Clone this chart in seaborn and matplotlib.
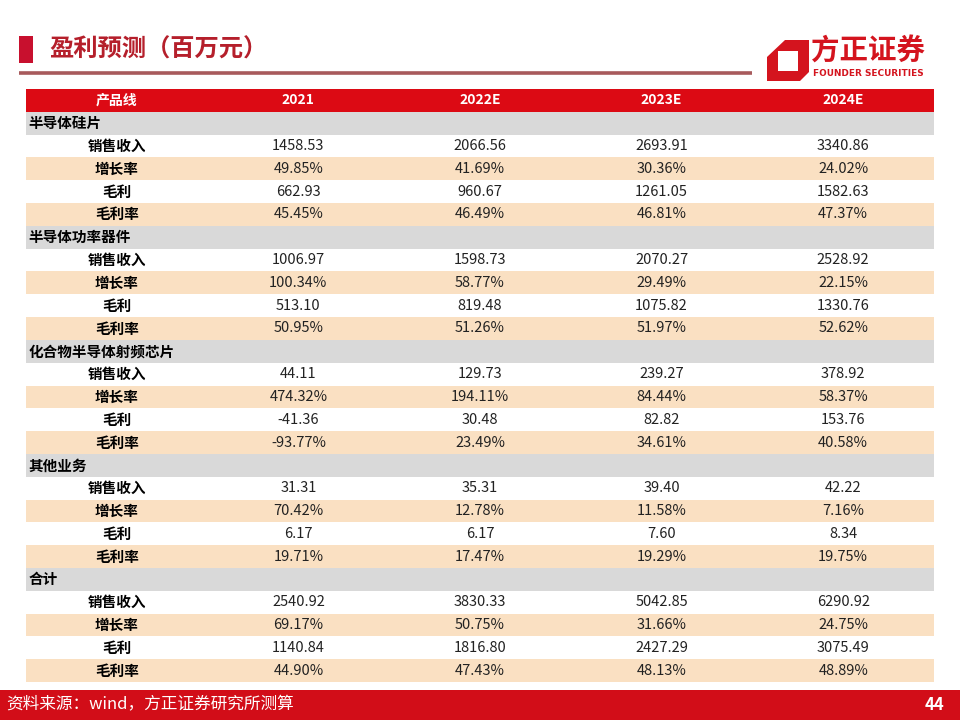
import matplotlib
matplotlib.use('Agg')
import matplotlib.pyplot as plt
import matplotlib.patches as mpatches
from matplotlib.colors import ListedColormap
import seaborn as sns
import numpy as np
import pandas as pd

# ---------------- data ----------------
years = ['2021', '2022E', '2023E', '2024E']
segments = ['半导体硅片', '半导体功率器件', '化合物半导体射频芯片', '其他业务', '合计']
metrics = ['销售收入', '增长率', '毛利', '毛利率']

silicon_revenue = [1458.53, 2066.56, 2693.91, 3340.86]
silicon_growth = [49.85, 41.69, 30.36, 24.02]
silicon_gross = [662.93, 960.67, 1261.05, 1582.63]
silicon_margin = [45.45, 46.49, 46.81, 47.37]

power_revenue = [1006.97, 1598.73, 2070.27, 2528.92]
power_growth = [100.34, 58.77, 29.49, 22.15]
power_gross = [513.10, 819.48, 1075.82, 1330.76]
power_margin = [50.95, 51.26, 51.97, 52.62]

rf_revenue = [44.11, 129.73, 239.27, 378.92]
rf_growth = [474.32, 194.11, 84.44, 58.37]
rf_gross = [-41.36, 30.48, 82.82, 153.76]
rf_margin = [-93.77, 23.49, 34.61, 40.58]

other_revenue = [31.31, 35.31, 39.40, 42.22]
other_growth = [70.42, 12.78, 11.58, 7.16]
other_gross = [6.17, 6.17, 7.60, 8.34]
other_margin = [19.71, 17.47, 19.29, 19.75]

total_revenue = [2540.92, 3830.33, 5042.85, 6290.92]
total_growth = [69.17, 50.75, 31.66, 24.75]
total_gross = [1140.84, 1816.80, 2427.29, 3075.49]
total_margin = [44.90, 47.43, 48.13, 48.89]

segment_data = [
    [silicon_revenue, silicon_growth, silicon_gross, silicon_margin],
    [power_revenue, power_growth, power_gross, power_margin],
    [rf_revenue, rf_growth, rf_gross, rf_margin],
    [other_revenue, other_growth, other_gross, other_margin],
    [total_revenue, total_growth, total_gross, total_margin],
]

# ---------------- style ----------------
sns.set_theme(style='white')
plt.rcParams['font.family'] = ['Noto Sans CJK SC', 'DejaVu Sans']

RED = '#dc0a14'
TITLE_RED = '#b51f2b'
GRAY = '#d9d9d9'
BEIGE = '#fae0c2'
WHITE = '#ffffff'
LOGO_RED = '#d4141e'

# build table rows: code 0 header, 1 group, 2 white, 3 beige
codes, rows = [0], [('header', None, None)]
for seg, data in zip(segments, segment_data):
    codes.append(1)
    rows.append(('group', seg, None))
    for k, (m, vals) in enumerate(zip(metrics, data)):
        codes.append(2 if k % 2 == 0 else 3)
        pct = m in ('增长率', '毛利率')
        txt = [f'{v:.2f}%' if pct else f'{v:.2f}' for v in vals]
        rows.append(('metric', m, txt))

grid = pd.DataFrame(np.repeat(np.array(codes)[:, None], 5, axis=1))
cmap = ListedColormap([RED, GRAY, WHITE, BEIGE])

W, H = 960, 720
fig = plt.figure(figsize=(9.6, 7.2), dpi=100)

# background axes in pixel coordinates
bg = fig.add_axes([0, 0, 1, 1])
bg.set_xlim(0, W)
bg.set_ylim(H, 0)
bg.axis('off')

# title block
bg.add_patch(mpatches.Rectangle((19, 36), 14, 27, color='#c8102e', lw=0))
bg.text(49, 50, '盈利预测（百万元）', fontsize=17.5, fontweight='bold',
        color=TITLE_RED, va='center', ha='left')
bg.plot([19, 752], [73, 73], color='#a85a5c', lw=2.6, solid_capstyle='butt')

# logo
outer = mpatches.Polygon([(785, 40), (809, 40), (809, 72), (800, 81),
                          (767, 81), (767, 57)], closed=True, color=LOGO_RED, lw=0)
inner = mpatches.Rectangle((778, 51), 20, 20, color='white', lw=0)
bg.add_patch(outer)
bg.add_patch(inner)
bg.text(811, 52, '方正证券', fontsize=20.5, fontweight='bold', color=LOGO_RED,
        va='center', ha='left')
bg.text(813, 73, 'FOUNDER SECURITIES', fontsize=6.4, fontweight='bold',
        color=LOGO_RED, va='center', ha='left', family='DejaVu Sans')

# footer
bg.add_patch(mpatches.Rectangle((0, 690), W, 30, color='#d20d18', lw=0))
bg.text(6, 705, '资料来源：wind，方正证券研究所测算', fontsize=12, color='white',
        va='center', ha='left')
bg.text(944, 705, '44', fontsize=12, fontweight='bold', color='white',
        va='center', ha='right')

# table as heatmap
top, bottom, left, right = 89, 682, 26, 934
tab = fig.add_axes([left / W, 1 - bottom / H, (right - left) / W, (bottom - top) / H])
sns.heatmap(grid, cmap=cmap, vmin=-0.5, vmax=3.5, cbar=False, ax=tab,
            xticklabels=False, yticklabels=False, linewidths=0)
tab.set_xlabel('')
tab.set_ylabel('')

for i, (kind, label, vals) in enumerate(rows):
    y = i + 0.5
    if kind == 'header':
        for j, t in enumerate(['产品线'] + years):
            tab.text(j + 0.5, y, t, ha='center', va='center', fontsize=10,
                     fontweight='bold', color='white')
    elif kind == 'group':
        tab.text(0.015, y, label, ha='left', va='center', fontsize=10.5,
                 fontweight='bold', color='black')
    else:
        tab.text(0.5, y, label, ha='center', va='center', fontsize=10.5,
                 fontweight='bold', color='black')
        for j, t in enumerate(vals):
            tab.text(j + 1.5, y, t, ha='center', va='center', fontsize=10.5,
                     color='#222222')

fig.savefig('out.png', dpi=100)
